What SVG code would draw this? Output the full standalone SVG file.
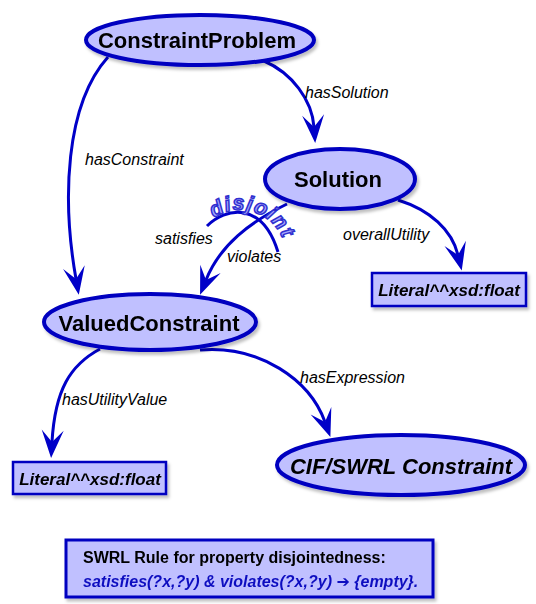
<svg xmlns="http://www.w3.org/2000/svg" width="536" height="604" viewBox="0 0 536 604">
<style>
.node{fill:#C0C0FF;stroke:#0000C0;stroke-width:4}
.box{fill:#C0C0FF;stroke:#0000C0;stroke-width:2.5}
.nl{font-family:"Liberation Sans",Arial,sans-serif;font-weight:bold;font-size:22px;fill:#000;text-anchor:middle}
.bl{font-family:"Liberation Sans",Arial,sans-serif;font-weight:bold;font-style:italic;font-size:17px;fill:#000;text-anchor:middle}
.el{font-family:"Liberation Sans",Arial,sans-serif;font-style:italic;font-size:16px;fill:#000}
.edge{fill:none;stroke:#0000C8;stroke-width:3}
.dj{font-family:"Liberation Sans",Arial,sans-serif;font-weight:bold;font-style:italic;font-size:21px;letter-spacing:1px;fill:#A8A8FF;stroke:#3030D0;stroke-width:1.5}
</style>
<defs>
<filter id="sh" x="-10%" y="-10%" width="130%" height="140%">
<feDropShadow dx="2" dy="3" stdDeviation="1.5" flood-color="#000" flood-opacity="0.25"/>
</filter>
<marker id="ah" markerUnits="userSpaceOnUse" markerWidth="40" markerHeight="40" refX="0" refY="0" orient="auto" overflow="visible">
<path d="M16,0 L-12,-11 L0,0 L-12,11 Z" fill="#0000C8"/>
</marker>
<path id="djp" d="M 209.8,221.3 A 46,46 0 0 1 285.3,264"/>
</defs>
<g id="connectors">
<path class="edge" d="M 108,57 C 65,105 62,200 76,279" marker-end="url(#ah)"/>
<path class="edge" d="M 264,61 C 292,73 312,100 314,127" marker-end="url(#ah)"/>
<path class="edge" d="M 398,200 C 430,210 452,230 458,255" marker-end="url(#ah)"/>
<path class="edge" d="M 287,204 C 250,222 220,245 206,280" marker-end="url(#ah)"/>
<path class="edge" d="M 100,349 C 70,365 55,390 52,442" marker-end="url(#ah)"/>
<path class="edge" d="M 200,350 C 260,345 310,380 325,422" marker-end="url(#ah)"/>
<path class="edge" d="M 207,226 C 225,208 262,200 278,252"/>
<text class="el" x="155" y="244">satisfies</text>
<text class="el" x="85" y="165">hasConstraint</text>
<text class="el" x="305" y="98">hasSolution</text>
<text class="el" x="343" y="240">overallUtility</text>
<text class="el" x="227" y="262">violates</text>
<text class="el" x="62" y="405">hasUtilityValue</text>
<text class="el" x="300" y="383">hasExpression</text>
<text class="dj"><textPath href="#djp" startOffset="5">disjoint</textPath></text>
</g>
<g id="ConstraintProblem" filter="url(#sh)">
<ellipse class="node" cx="200" cy="40" rx="114" ry="25"/>
<text class="nl" x="197" y="48">ConstraintProblem</text>
</g>
<g id="Solution" filter="url(#sh)">
<ellipse class="node" cx="340" cy="179" rx="75" ry="30"/>
<text class="nl" x="338" y="187">Solution</text>
</g>
<g id="ValuedConstraint" filter="url(#sh)">
<ellipse class="node" cx="150" cy="322" rx="106" ry="28"/>
<text class="nl" x="149" y="331">ValuedConstraint</text>
</g>
<g id="CIFSWRL" filter="url(#sh)">
<ellipse class="node" cx="401" cy="465" rx="124" ry="30"/>
<text class="nl" x="401" y="474" font-style="italic">CIF/SWRL Constraint</text>
</g>
<g id="LiteralRight" filter="url(#sh)">
<rect class="box" x="372" y="273" width="154" height="33"/>
<text class="bl" x="449" y="296">Literal^^xsd:float</text>
</g>
<g id="LiteralLeft" filter="url(#sh)">
<rect class="box" x="13" y="462" width="153" height="32"/>
<text class="bl" x="90" y="485">Literal^^xsd:float</text>
</g>
<g id="SWRLRule" filter="url(#sh)">
<rect x="66" y="540" width="367" height="57" fill="#C0C0FF" stroke="#0000C0" stroke-width="3"/>
<text x="83" y="563" font-family="Liberation Sans, Arial, sans-serif" font-weight="bold" font-size="16" fill="#000">SWRL Rule for property disjointedness:</text>
<text x="83" y="587" font-family="Liberation Sans, Arial, sans-serif" font-weight="bold" font-style="italic" font-size="16" fill="#1010C0">satisfies(?x,?y) &amp; violates(?x,?y) <tspan font-family="DejaVu Sans, sans-serif" font-style="normal" font-weight="bold">➔</tspan> {empty}.</text>
</g>
</svg>
